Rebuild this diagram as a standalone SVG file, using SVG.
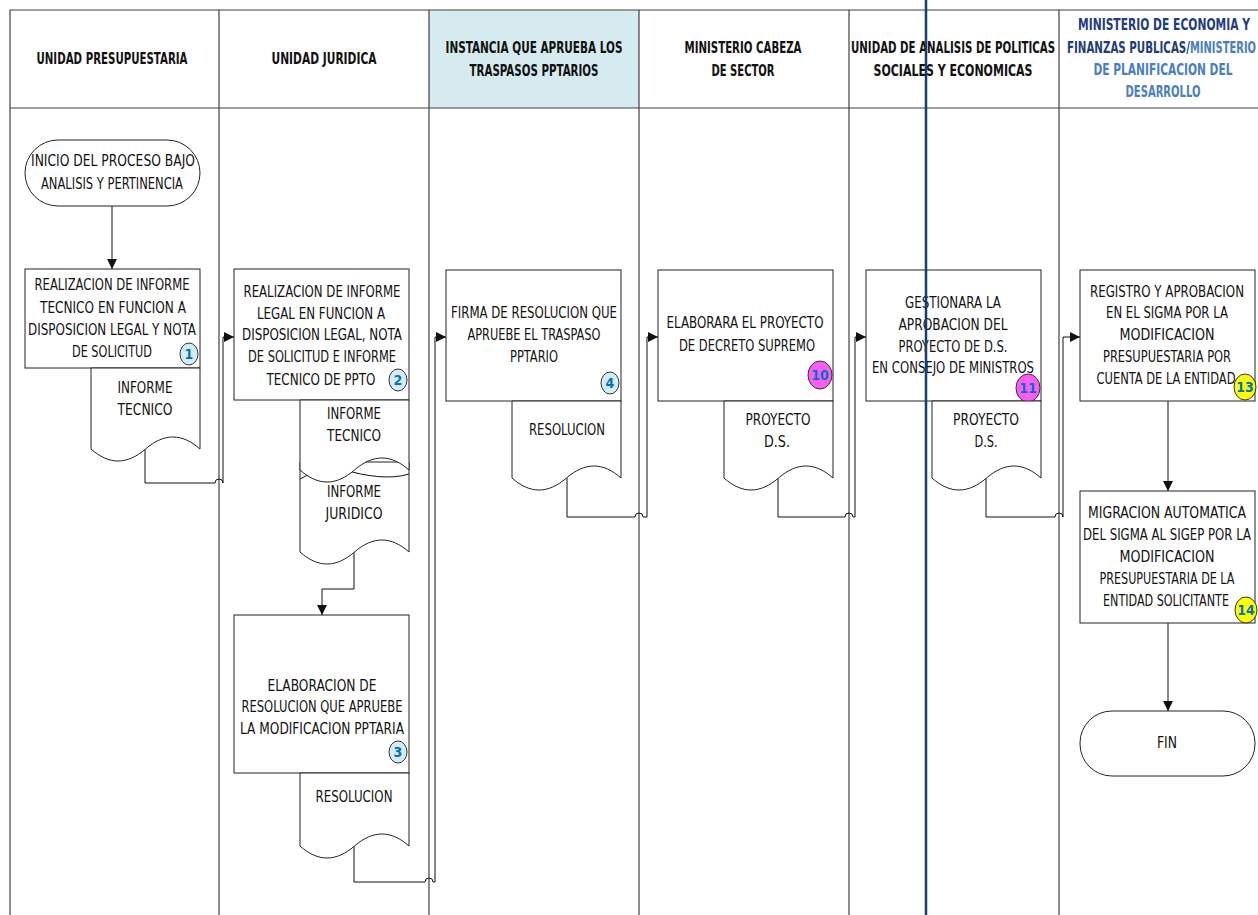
<svg xmlns="http://www.w3.org/2000/svg" width="1258" height="915" viewBox="0 0 1258 915">
<style>
.lane{stroke:#404040;stroke-width:1.2;fill:none}
.hd{font-family:"DejaVu Sans Condensed","DejaVu Sans","Liberation Sans",sans-serif;font-weight:bold;font-size:15px;fill:#111;text-anchor:middle}
.tx{font-family:"DejaVu Sans Condensed","DejaVu Sans","Liberation Sans",sans-serif;font-size:15px;fill:#111;text-anchor:middle}
.box{fill:#fff;stroke:#222;stroke-width:1}
.doc{fill:#fff;stroke:#222;stroke-width:1}
.con{fill:none;stroke:#111;stroke-width:1}
.bn{font-family:"DejaVu Sans Condensed","DejaVu Sans","Liberation Sans",sans-serif;font-weight:bold;font-size:14px;fill:#0070c0;text-anchor:middle}
.bl{fill:#d6ecf3;stroke:#333;stroke-width:1}
.bm{fill:#ff5cf5;stroke:#333;stroke-width:1}
.by{fill:#ffff00;stroke:#333;stroke-width:1}
</style>
<defs>
<marker id="ar" viewBox="0 0 10 10" refX="10" refY="5" markerWidth="10" markerHeight="10" markerUnits="userSpaceOnUse" orient="auto"><path d="M0,0 L10,5 L0,10 Z" fill="#111"/></marker>
</defs>
<rect width="1258" height="915" fill="#fff"/>
<g id="lanes">
<rect x="429" y="10" width="210" height="98" fill="#d6ebf0"/>
<line class="lane" x1="10" y1="10" x2="1258" y2="10"/>
<line class="lane" x1="10" y1="108" x2="1258" y2="108"/>
<line class="lane" x1="10" y1="10" x2="10" y2="915"/>
<line class="lane" x1="219" y1="10" x2="219" y2="915"/>
<line class="lane" x1="429" y1="10" x2="429" y2="915"/>
<line class="lane" x1="639" y1="10" x2="639" y2="915"/>
<line class="lane" x1="849" y1="10" x2="849" y2="915"/>
<line class="lane" x1="1059" y1="10" x2="1059" y2="915"/>
<text class="hd" x="112" y="64" textLength="151" lengthAdjust="spacingAndGlyphs">UNIDAD PRESUPUESTARIA</text>
<text class="hd" x="324" y="64" textLength="105" lengthAdjust="spacingAndGlyphs">UNIDAD JURIDICA</text>
<text class="hd" x="534" y="53" textLength="177" lengthAdjust="spacingAndGlyphs">INSTANCIA QUE APRUEBA LOS</text>
<text class="hd" x="534" y="76" textLength="129" lengthAdjust="spacingAndGlyphs">TRASPASOS PPTARIOS</text>
<text class="hd" x="743" y="53" textLength="117" lengthAdjust="spacingAndGlyphs">MINISTERIO CABEZA</text>
<text class="hd" x="743" y="76" textLength="63" lengthAdjust="spacingAndGlyphs">DE SECTOR</text>
<text class="hd" x="953" y="53" textLength="204" lengthAdjust="spacingAndGlyphs">UNIDAD DE ANALISIS DE POLITICAS</text>
<text class="hd" x="953" y="76" textLength="159" lengthAdjust="spacingAndGlyphs">SOCIALES Y ECONOMICAS</text>
<text class="hd" x="1164" y="30" textLength="172" lengthAdjust="spacingAndGlyphs" style="fill:#1f3d7a">MINISTERIO DE ECONOMIA Y</text>
<text class="hd" x="1067" y="53" textLength="123" lengthAdjust="spacingAndGlyphs" style="fill:#1f3d7a;text-anchor:start">FINANZAS PUBLICAS/</text>
<text class="hd" x="1190" y="53" textLength="66" lengthAdjust="spacingAndGlyphs" style="fill:#4a7ebf;text-anchor:start">MINISTERIO</text>
<text class="hd" x="1163" y="75" textLength="139" lengthAdjust="spacingAndGlyphs" style="fill:#4a7ebf">DE PLANIFICACION DEL</text>
<text class="hd" x="1163" y="97" textLength="75" lengthAdjust="spacingAndGlyphs" style="fill:#4a7ebf">DESARROLLO</text>
</g>
<g id="connectors">
<line class="con" x1="112" y1="206" x2="112" y2="269" marker-end="url(#ar)"/>
<path class="con" d="M145,449 V483 H215 A4,4 0 0 1 223,483 V337 H234" marker-end="url(#ar)"/>
<path class="con" d="M354,552 V589 H322 V615" marker-end="url(#ar)"/>
<path class="con" d="M354,846 V882 H425 A4,4 0 0 1 433,882 H435 V337 H446" marker-end="url(#ar)"/>
<path class="con" d="M567,478 V517 H635 A4,4 0 0 1 643,517 H647 V337 H658" marker-end="url(#ar)"/>
<path class="con" d="M778,478 V517 H845 A4,4 0 0 1 853,517 H855 V337 H866" marker-end="url(#ar)"/>
<path class="con" d="M986,478 V517 H1055 A4,4 0 0 1 1063,517 V337 H1080" marker-end="url(#ar)"/>
<line class="con" x1="1168" y1="401" x2="1168" y2="491" marker-end="url(#ar)"/>
<line class="con" x1="1168" y1="623" x2="1168" y2="711" marker-end="url(#ar)"/>
</g>
<g id="n-inicio">
<rect class="box" x="25" y="140" width="175" height="66" rx="33"/>
<text class="tx" x="113" y="166" textLength="164" lengthAdjust="spacingAndGlyphs">INICIO DEL PROCESO BAJO</text>
<text class="tx" x="112" y="189" textLength="142" lengthAdjust="spacingAndGlyphs">ANALISIS Y PERTINENCIA</text>
</g>
<g id="n-1">
<rect class="box" x="25" y="269" width="175" height="99"/>
<text class="tx" x="112" y="290" textLength="155" lengthAdjust="spacingAndGlyphs">REALIZACION DE INFORME</text>
<text class="tx" x="113" y="313" textLength="146" lengthAdjust="spacingAndGlyphs">TECNICO EN FUNCION A</text>
<text class="tx" x="112" y="335" textLength="168" lengthAdjust="spacingAndGlyphs">DISPOSICION LEGAL Y NOTA</text>
<text class="tx" x="112" y="357" textLength="80" lengthAdjust="spacingAndGlyphs">DE SOLICITUD</text>
<ellipse class="bl" cx="189" cy="354" rx="9" ry="11"/><text class="bn" x="189" y="359">1</text>
</g>
<g id="d-1">
<path class="doc" d="M91,368 H200 V449 C182,433 164,433 145.5,449 C127,465 109,465 91,449 Z"/>
<text class="tx" x="145" y="393" textLength="55" lengthAdjust="spacingAndGlyphs">INFORME</text>
<text class="tx" x="145" y="415" textLength="55" lengthAdjust="spacingAndGlyphs">TECNICO</text>
</g>
<g id="n-2">
<rect class="box" x="234" y="269" width="175" height="131"/>
<text class="tx" x="322" y="297" textLength="157" lengthAdjust="spacingAndGlyphs">REALIZACION DE INFORME</text>
<text class="tx" x="321" y="319" textLength="128" lengthAdjust="spacingAndGlyphs">LEGAL EN FUNCION A</text>
<text class="tx" x="322" y="340" textLength="160" lengthAdjust="spacingAndGlyphs">DISPOSICION LEGAL, NOTA</text>
<text class="tx" x="322" y="362" textLength="148" lengthAdjust="spacingAndGlyphs">DE SOLICITUD E INFORME</text>
<text class="tx" x="321" y="385" textLength="109" lengthAdjust="spacingAndGlyphs">TECNICO DE PPTO</text>
<ellipse class="bl" cx="398" cy="380" rx="9" ry="11"/><text class="bn" x="398" y="385">2</text>
</g>
<g id="d-2b">
<path class="doc" d="M300,462 H409 V552 C391,536 373,536 354.5,552 C336,568 318,568 300,552 Z"/>
<path class="con" d="M300,479 C316,470 330,466 345,470 C365,476 390,480 409,474"/>
</g>
<g id="d-2a">
<path class="doc" d="M300,400 H409 V470 C391,454 373,454 354.5,470 C336,486 318,486 300,470 Z"/>
<text class="tx" x="354" y="419" textLength="54" lengthAdjust="spacingAndGlyphs">INFORME</text>
<text class="tx" x="354" y="441" textLength="54" lengthAdjust="spacingAndGlyphs">TECNICO</text>
<text class="tx" x="354" y="497" textLength="54" lengthAdjust="spacingAndGlyphs">INFORME</text>
<text class="tx" x="354" y="519" textLength="57" lengthAdjust="spacingAndGlyphs">JURIDICO</text>
</g>
<g id="n-3">
<rect class="box" x="234" y="615" width="175" height="158"/>
<text class="tx" x="322" y="691" textLength="109" lengthAdjust="spacingAndGlyphs">ELABORACION DE</text>
<text class="tx" x="322" y="712" textLength="161" lengthAdjust="spacingAndGlyphs">RESOLUCION QUE APRUEBE</text>
<text class="tx" x="322" y="734" textLength="164" lengthAdjust="spacingAndGlyphs">LA MODIFICACION PPTARIA</text>
<ellipse class="bl" cx="398" cy="752" rx="9" ry="11"/><text class="bn" x="398" y="757">3</text>
</g>
<g id="d-3">
<path class="doc" d="M300,773 H409 V846 C391,830 373,830 354.5,846 C336,862 318,862 300,846 Z"/>
<text class="tx" x="354" y="802" textLength="77" lengthAdjust="spacingAndGlyphs">RESOLUCION</text>
</g>
<g id="n-4">
<rect class="box" x="446" y="270" width="175" height="131"/>
<text class="tx" x="534" y="318" textLength="166" lengthAdjust="spacingAndGlyphs">FIRMA DE RESOLUCION QUE</text>
<text class="tx" x="534" y="340" textLength="133" lengthAdjust="spacingAndGlyphs">APRUEBE EL TRASPASO</text>
<text class="tx" x="534" y="362" textLength="48" lengthAdjust="spacingAndGlyphs">PPTARIO</text>
<ellipse class="bl" cx="610" cy="383" rx="9" ry="11"/><text class="bn" x="610" y="388">4</text>
</g>
<g id="d-4">
<path class="doc" d="M512,401 H621 V478 C603,462 585,462 566.5,478 C548,494 530,494 512,478 Z"/>
<text class="tx" x="567" y="435" textLength="76" lengthAdjust="spacingAndGlyphs">RESOLUCION</text>
</g>
<g id="n-10">
<rect class="box" x="658" y="270" width="175" height="131"/>
<text class="tx" x="745" y="328" textLength="157" lengthAdjust="spacingAndGlyphs">ELABORARA EL PROYECTO</text>
<text class="tx" x="747" y="351" textLength="136" lengthAdjust="spacingAndGlyphs">DE DECRETO SUPREMO</text>
<ellipse class="bm" cx="820" cy="375" rx="12" ry="14"/><text class="bn" x="820" y="380">10</text>
</g>
<g id="d-10">
<path class="doc" d="M724,401 H833 V478 C815,462 797,462 778.5,478 C760,494 742,494 724,478 Z"/>
<text class="tx" x="778" y="425" textLength="65" lengthAdjust="spacingAndGlyphs">PROYECTO</text>
<text class="tx" x="777" y="447" textLength="26" lengthAdjust="spacingAndGlyphs">D.S.</text>
</g>
<g id="n-11">
<rect class="box" x="866" y="270" width="175" height="131"/>
<text class="tx" x="953" y="308" textLength="96" lengthAdjust="spacingAndGlyphs">GESTIONARA LA</text>
<text class="tx" x="953" y="330" textLength="109" lengthAdjust="spacingAndGlyphs">APROBACION DEL</text>
<text class="tx" x="953" y="352" textLength="109" lengthAdjust="spacingAndGlyphs">PROYECTO DE D.S.</text>
<text class="tx" x="953" y="373" textLength="162" lengthAdjust="spacingAndGlyphs">EN CONSEJO DE MINISTROS</text>
<ellipse class="bm" cx="1028" cy="388" rx="12" ry="14"/><text class="bn" x="1028" y="393">11</text>
</g>
<g id="d-11">
<path class="doc" d="M932,401 H1041 V478 C1023,462 1005,462 986.5,478 C968,494 950,494 932,478 Z"/>
<text class="tx" x="986" y="425" textLength="66" lengthAdjust="spacingAndGlyphs">PROYECTO</text>
<text class="tx" x="986" y="447" textLength="23" lengthAdjust="spacingAndGlyphs">D.S.</text>
</g>
<g id="n-13">
<rect class="box" x="1080" y="270" width="175" height="131"/>
<text class="tx" x="1167" y="297" textLength="154" lengthAdjust="spacingAndGlyphs">REGISTRO Y APROBACION</text>
<text class="tx" x="1167" y="318" textLength="122" lengthAdjust="spacingAndGlyphs">EN EL SIGMA POR LA</text>
<text class="tx" x="1167" y="340" textLength="95" lengthAdjust="spacingAndGlyphs">MODIFICACION</text>
<text class="tx" x="1167" y="362" textLength="128" lengthAdjust="spacingAndGlyphs">PRESUPUESTARIA POR</text>
<text class="tx" x="1166" y="384" textLength="139" lengthAdjust="spacingAndGlyphs">CUENTA DE LA ENTIDAD</text>
<ellipse class="by" cx="1245" cy="387" rx="11" ry="13"/><text class="bn" x="1245" y="392">13</text>
</g>
<g id="n-14">
<rect class="box" x="1080" y="491" width="175" height="132"/>
<text class="tx" x="1167" y="518" textLength="158" lengthAdjust="spacingAndGlyphs">MIGRACION AUTOMATICA</text>
<text class="tx" x="1167" y="540" textLength="168" lengthAdjust="spacingAndGlyphs">DEL SIGMA AL SIGEP POR LA</text>
<text class="tx" x="1167" y="562" textLength="95" lengthAdjust="spacingAndGlyphs">MODIFICACION</text>
<text class="tx" x="1167" y="584" textLength="135" lengthAdjust="spacingAndGlyphs">PRESUPUESTARIA DE LA</text>
<text class="tx" x="1166" y="606" textLength="126" lengthAdjust="spacingAndGlyphs">ENTIDAD SOLICITANTE</text>
<ellipse class="by" cx="1246" cy="610" rx="11" ry="13"/><text class="bn" x="1246" y="615">14</text>
</g>
<g id="n-fin">
<rect class="box" x="1080" y="711" width="175" height="65" rx="32"/>
<text class="tx" x="1167" y="748" textLength="20" lengthAdjust="spacingAndGlyphs">FIN</text>
</g>
<line id="blue-line" x1="926" y1="0" x2="926" y2="915" stroke="#173f6e" stroke-width="2.5"/>
</svg>
